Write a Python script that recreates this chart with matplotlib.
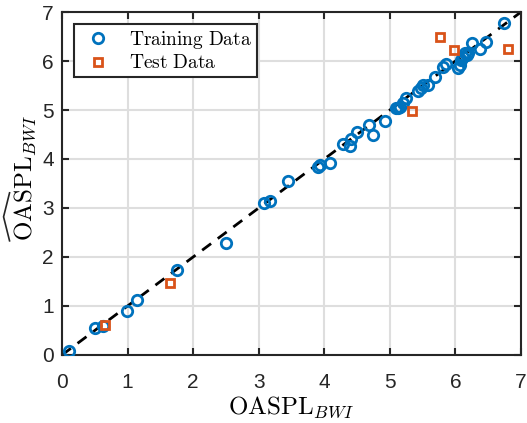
import numpy as np
import matplotlib
matplotlib.use('Agg')
import matplotlib.pyplot as plt
from matplotlib.lines import Line2D

plt.rcParams['font.family'] = ['Liberation Sans', 'DejaVu Sans']
plt.rcParams['mathtext.fontset'] = 'cm'

# ************ DADOS ************
train_true = [0.10, 0.50, 0.63, 0.99, 1.14, 1.75, 2.50, 3.08, 3.17, 3.45, 3.91, 3.93, 4.09,
              4.28, 4.39, 4.40, 4.50, 4.68, 4.74, 4.92, 5.09, 5.12, 5.15, 5.20, 5.24,
              5.43, 5.47, 5.51, 5.58, 5.69, 5.81, 5.86,
              6.04, 6.07, 6.09, 6.12, 6.14, 6.17, 6.19, 6.25, 6.37, 6.47, 6.74]
train_pred = [0.08, 0.56, 0.59, 0.90, 1.12, 1.73, 2.29, 3.10, 3.14, 3.56, 3.84, 3.88, 3.91,
              4.31, 4.27, 4.41, 4.56, 4.69, 4.48, 4.78, 5.04, 5.05, 5.07, 5.14, 5.25,
              5.38, 5.44, 5.51, 5.51, 5.68, 5.88, 5.94,
              5.85, 5.92, 6.02, 6.09, 6.16, 6.12, 6.16, 6.36, 6.24, 6.39, 6.78]
test_true = [0.66, 1.65, 5.34, 5.77, 5.98, 6.80]
test_pred = [0.62, 1.46, 4.97, 6.49, 6.22, 6.25]
diag = [0, 7]

azul = '#0072BD'
laranja = '#D95319'

fig = plt.figure(figsize=(5.27, 4.23), dpi=100)
ax = fig.add_axes([0.1176, 0.1608, 0.8710, 0.8108])

ax.plot(train_true, train_pred, 'o', markersize=7.5, markeredgewidth=2.0,
        markerfacecolor='none', markeredgecolor=azul, label=r'$\mathrm{Training\ Data}$', zorder=3)
ax.plot(test_true, test_pred, 's', markersize=6, markeredgewidth=2.0,
        markerfacecolor='none', markeredgecolor=laranja, label=r'$\mathrm{Test\ Data}$', zorder=4)
ax.plot(diag, diag, '--', color='black', linewidth=2, dashes=(4, 3), zorder=2)

ax.set_xlim(0, 7)
ax.set_ylim(0, 7)
ax.set_xticks(range(8))
ax.set_yticks(range(8))
ax.grid(True, color='#dedede', linewidth=1.5)
ax.set_axisbelow(True)
ax.tick_params(direction='in', length=5, width=1.5, top=True, right=True,
               labelsize=15, colors='#262626')
ax.tick_params(axis='x', pad=13)
ax.tick_params(axis='y', pad=6)
for s in ax.spines.values():
    s.set_linewidth(1.5)
    s.set_color('#262626')

ax.set_xlabel(r'$\mathrm{OASPL}_{BWI}$', fontsize=18, labelpad=2)
ax.set_ylabel(r'$\mathrm{OASPL}_{BWI}$', fontsize=18)
ax.yaxis.set_label_coords(-0.052, 0.517)

leg = ax.legend(loc='upper left', fontsize=14, fancybox=False, framealpha=1,
                edgecolor='#262626', borderpad=0.25, handletextpad=0.6,
                borderaxespad=0.6, labelspacing=0.2, handlelength=2.0)
leg.get_frame().set_linewidth(1.5)

# chapeu largo sobre OASPL (o \widehat do mathtext fica alto demais)
fig.canvas.draw()
bb = ax.yaxis.label.get_window_extent()
y0 = bb.y0 + 0.0 * bb.height
y1 = bb.y0 + 0.38 * bb.height
xb = bb.x0 - 3
xp = bb.x0 - 9
fig.add_artist(Line2D([xb, xp, xb], [y0, (y0 + y1) / 2, y1], transform=None,
                      color='#262626', linewidth=1.2))

fig.savefig('out.png', dpi=100)
